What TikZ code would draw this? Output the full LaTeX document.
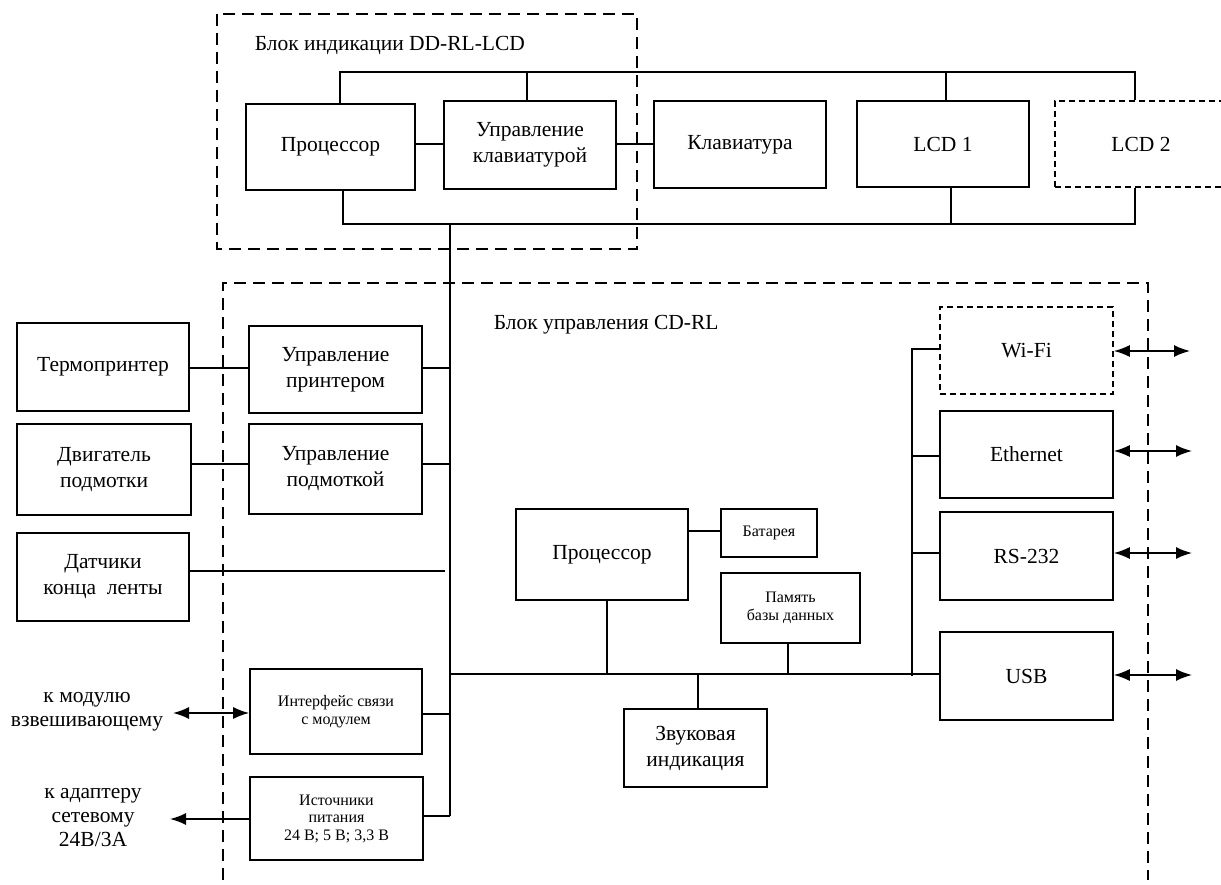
\documentclass[tikz,border=0pt]{standalone}
\usepackage{fontspec}
\setmainfont{Liberation Serif}
\usetikzlibrary{arrows.meta}
\begin{document}
\begin{tikzpicture}[x=1pt,y=-1pt,
  line width=1.6pt,
  box/.style={draw, rectangle, inner sep=2pt, align=center,
    font=\fontsize{21.5}{26}\selectfont},
  smallbox/.style={box, font=\fontsize{16}{17.5}\selectfont},
  optbox/.style={box, dash pattern=on 6pt off 4pt},
  group/.style={dash pattern=on 12pt off 7pt},
  lbl/.style={align=center, inner sep=0pt, font=\fontsize{21.5}{24}\selectfont},
  tip/.tip={Latex[length=16pt,width=12pt]},
  twoway/.style={tip-tip},
  oneway/.style={-tip}]
\useasboundingbox (0,0) rectangle (1221,885);
\clip (0,0) rectangle (1221,885);

% --- display unit DD-RL-LCD ---
\draw[group] (217,14) rectangle (637,249);
\node[lbl, anchor=west] (ddtitle) at (254,45) {Блок индикации DD-RL-LCD};

\node[box, minimum width=169pt, minimum height=86pt] (proc1) at (330.5,147) {Процессор};
\node[box, minimum width=172pt, minimum height=88pt] (ukl) at (530,145) {Управление\\клавиатурой};
\node[box, minimum width=172pt, minimum height=87pt] (klav) at (740,144.5) {Клавиатура};
\node[box, minimum width=172pt, minimum height=86pt] (lcd1) at (943,144) {LCD 1};
\node[optbox, minimum width=172pt, minimum height=86pt] (lcd2) at (1141,144) {LCD 2};

% upper bus
\coordinate (tb1) at (340,72);
\coordinate (tb2) at (1135,72);
\draw (proc1.north -| tb1) -- (tb1) -- (tb2) -- (lcd2.north -| tb2);
\draw (ukl.north -| 527,0) -- (527,72);
\draw (lcd1.north -| 946,0) -- (946,72);
% lower bus
\coordinate (bb1) at (343,224);
\coordinate (bb2) at (1135,224);
\draw (proc1.south -| bb1) -- (bb1) -- (bb2) -- (lcd2.south -| bb2);
\draw (lcd1.south -| 951,0) -- (951,224);

\draw (proc1.east |- 0,144) -- (ukl.west |- 0,144);
\draw (ukl.east |- 0,144) -- (klav.west |- 0,144);

% --- control unit CD-RL ---
\draw[group] (223,880) -- (223,283) -- (1148,283) -- (1148,880);
\node[lbl, anchor=west] (cdtitle) at (493,325) {Блок управления CD-RL};

% vertical link between the units
\coordinate (vtop) at (450,224);
\coordinate (vbot) at (450,816);
\draw (vtop) -- (vbot);

\node[box, minimum width=172pt, minimum height=88pt] (term) at (103,367) {Термопринтер};
\node[box, minimum width=173pt, minimum height=87pt] (upr) at (335.5,369.5) {Управление\\принтером};
\node[box, minimum width=174pt, minimum height=91pt] (dvig) at (104,469.5) {Двигатель\\подмотки};
\node[box, minimum width=173pt, minimum height=90pt] (upm) at (335.5,469) {Управление\\подмоткой};
\node[box, minimum width=172pt, minimum height=88pt] (dat) at (103,577) {Датчики\\конца\ \ ленты};
\node[smallbox, minimum width=172pt, minimum height=85pt] (intf) at (336,711.5) {Интерфейс связи\\с модулем};
\node[smallbox, minimum width=173pt, minimum height=83pt] (pwr) at (336.5,818.5) {Источники\\питания\\24 В; 5 В; 3,3 В};

\draw (term.east |- 0,368) -- (upr.west |- 0,368);
\draw (upr.east |- 0,368) -- (450,368);
\draw (dvig.east |- 0,464) -- (upm.west |- 0,464);
\draw (upm.east |- 0,464) -- (450,464);
\draw (dat.east |- 0,571) -- (445,571);
\draw (intf.east |- 0,714) -- (450,714);
\draw (pwr.east |- 0,816) -- (vbot);

\node[lbl] (modlbl) at (87,712) {к модулю\\взвешивающему};
\node[lbl] (adlbl) at (93,818) {к адаптеру\\сетевому\\24В/3А};
\coordinate (modend) at (173,713);
\coordinate (adend) at (170,819);
\draw[twoway] (modend) -- (intf.west |- modend);
\draw[oneway] (pwr.west |- adend) -- (adend);

% main bus and its devices
\node[box, minimum width=172pt, minimum height=91pt] (proc2) at (602,554.5) {Процессор};
\node[smallbox, minimum width=96pt, minimum height=48pt] (bat) at (769,533) {Батарея};
\node[smallbox, minimum width=139pt, minimum height=70pt] (mem) at (790.5,608) {Память\\базы данных};
\node[box, minimum width=143pt, minimum height=78pt] (snd) at (695.5,748) {Звуковая\\индикация};

\node[optbox, minimum width=173pt, minimum height=87pt] (wifi) at (1026.5,350.5) {Wi-Fi};
\node[box, minimum width=173pt, minimum height=87pt] (eth) at (1026.5,454.5) {Ethernet};
\node[box, minimum width=173pt, minimum height=88pt] (rs) at (1026.5,556) {RS-232};
\node[box, minimum width=173pt, minimum height=88pt] (usb) at (1026.5,676) {USB};

\coordinate (mb1) at (450,674);
\draw (mb1) -- (usb.west |- mb1);
\draw (proc2.south -| 607,0) -- (607,674);
\draw (mem.south -| 788,0) -- (788,674);
\draw (snd.north -| 698,0) -- (698,674);
\draw (proc2.east |- 0,531) -- (bat.west |- 0,531);

% interface rail
\coordinate (rtop) at (912,349);
\coordinate (rbot) at (912,676);
\draw (wifi.west |- rtop) -- (rtop) -- (rbot);
\draw (912,456) -- (eth.west |- 0,456);
\draw (912,553) -- (rs.west |- 0,553);

\coordinate (wend) at (1190,351);
\coordinate (eend) at (1192,451);
\coordinate (rend) at (1192,553);
\coordinate (uend) at (1192,675);
\draw[twoway] (wifi.east |- wend) -- (wend);
\draw[twoway] (eth.east |- eend) -- (eend);
\draw[twoway] (rs.east |- rend) -- (rend);
\draw[twoway] (usb.east |- uend) -- (uend);
\end{tikzpicture}
\end{document}
